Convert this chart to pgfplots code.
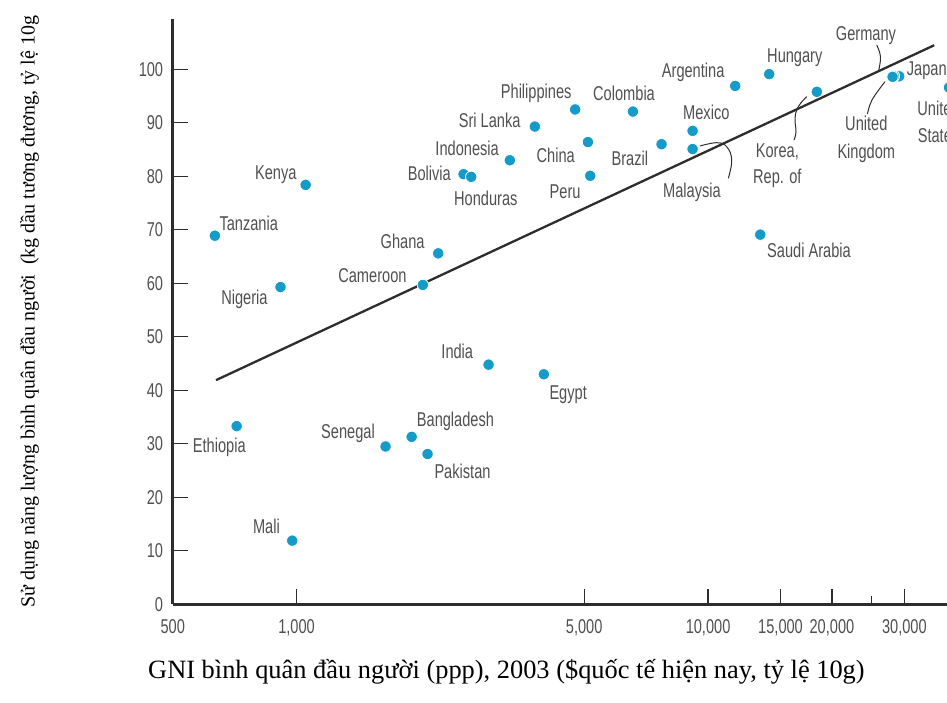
\documentclass[border=0pt]{standalone}
\usepackage{fontspec}
\usepackage{pgfplots}
\pgfplotsset{compat=1.18}
\setmainfont{Liberation Serif}
\newfontfamily\cond[FakeStretch=0.73]{Liberation Sans}
\definecolor{dot}{RGB}{20,155,200}
\definecolor{txt}{RGB}{80,80,80}
\definecolor{axc}{RGB}{45,45,45}
\pgfplotsset{every non boxed x axis/.style={}, every non boxed y axis/.style={}}
\begin{document}
\begin{tikzpicture}
\begin{axis}[
  at={(172.7pt,-604.3pt)}, anchor=south west,
  scale only axis, width=783.1pt, height=585pt,
  xmode=log, xmin=500, xmax=40000, ymin=0, ymax=109.35,
  enlargelimits=false, clip=false,
  axis x line*=bottom, axis y line*=left,
  axis line style={-, line width=2.6pt, color=axc},
  tick align=inside,
  major tick length=15pt,
  tick style={line width=1.2pt, color=axc},
  xtick={500,1000,5000,10000,15000,20000,30000},
  xticklabels={500,{1,000},{5,000},{10,000},{15,000},{20,000},{30,000}},
  extra x ticks={25000}, extra x tick labels={},
  extra x tick style={major tick length=8pt},
  minor xtick={},
  ytick={0,10,20,30,40,50,60,70,80,90,100},
  yticklabels={0,10,20,30,40,50,60,70,80,90,100},
  xticklabel style={font=\cond\fontsize{20}{24}\selectfont, text=txt, inner sep=0pt, anchor=north, yshift=-15.5pt},
  yticklabel style={font=\cond\fontsize{20}{24}\selectfont, text=txt, inner sep=0pt, anchor=east, xshift=-9.4pt},
]
\addplot[axc, line width=2.3pt, no marks] coordinates {(637,41.9) (35440,104.5)};
\addplot[only marks, mark=*, mark size=5.7pt, mark options={fill=dot, draw=white, line width=0.8pt}] coordinates {
(38500,96.6) (29140,98.7) (28300,98.7) (28080,98.6)
(633,68.9) (1052,78.4) (914,59.3) (2546,80.4) (2657,79.9) (3298,83.0)
(3794,89.3) (2209,65.6) (2027,59.7) (4753,92.5) (6567,92.1) (5105,86.4)
(5171,80.1) (7709,86.0) (9170,88.5) (9170,85.1) (11640,96.9) (14080,99.1)
(18380,95.8) (13390,69.1) (2928,44.8) (3990,43.0) (715,33.3) (1645,29.5)
(1904,31.3) (2081,28.1) (976,11.9)
};
\end{axis}
\begin{scope}[x=1pt, y=-1pt, every node/.style={font=\cond\fontsize{20}{24}\selectfont, text=txt, inner sep=0pt}]
\node[anchor=base east] at (296.7,179) {Kenya};
\node[anchor=base west] at (219.3,230.5) {Tanzania};
\node[anchor=base east] at (267.7,304.5) {Nigeria};
\node[anchor=base east] at (451,180) {Bolivia};
\node[anchor=base west] at (454,205.5) {Honduras};
\node[anchor=base east] at (499,155.5) {Indonesia};
\node[anchor=base east] at (520.7,127) {Sri Lanka};
\node[anchor=base east] at (571.7,98.5) {Philippines};
\node[anchor=base east] at (424.7,248.5) {Ghana};
\node[anchor=base east] at (406.7,282.5) {Cameroon};
\node[anchor=base west] at (593,100.5) {Colombia};
\node[anchor=base east] at (575,162) {China};
\node[anchor=base east] at (580.7,198) {Peru};
\node[anchor=base east] at (648.3,165.5) {Brazil};
\node[anchor=base west] at (683,119.5) {Mexico};
\node[anchor=base west] at (663,197) {Malaysia};
\node[anchor=base west] at (661.7,77) {Argentina};
\node[anchor=base west] at (767,62) {Hungary};
\node[anchor=base] at (777.3,157) {Korea,};
\node[anchor=base] at (777.3,183.5) {Rep. of};
\node[anchor=base] at (866,40.5) {Germany};
\node[anchor=base] at (866.3,130.5) {United};
\node[anchor=base] at (866.3,158.5) {Kingdom};
\node[anchor=base west] at (906.7,75.5) {Japan};
\node[anchor=base] at (938.5,115.5) {United};
\node[anchor=base] at (938.5,142.5) {States};
\node[anchor=base west] at (767,257) {Saudi Arabia};
\node[anchor=base east] at (473.3,358) {India};
\node[anchor=base west] at (549.3,399.5) {Egypt};
\node[anchor=base west] at (192.7,452.8) {Ethiopia};
\node[anchor=base east] at (375,438.5) {Senegal};
\node[anchor=base west] at (416.7,426) {Bangladesh};
\node[anchor=base west] at (434.3,478) {Pakistan};
\node[anchor=base east] at (280,533.5) {Mali};
\draw[axc, line width=1pt] plot[smooth, tension=0.7] coordinates {(700,146) (716.7,142.7) (726.7,146.7) (731.7,160) (728.3,178.3)};
\draw[axc, line width=1pt] plot[smooth, tension=0.7] coordinates {(806.7,96.7) (798.3,106.7) (795,118.3) (796,131.7) (794,140)};
\draw[axc, line width=1pt] plot[smooth, tension=0.7] coordinates {(876.7,45) (880.5,57) (878.3,72)};
\draw[axc, line width=1pt] plot[smooth, tension=0.7] coordinates {(885,81.7) (872,100) (867.5,114)};
\node[rotate=90, anchor=base west, font=\fontsize{20}{24}\selectfont, text=black] at (34.5,608) {Sử dụng năng lượng bình quân đầu người\ \ (kg dầu tương đương, tỷ lệ 10g};
\node[anchor=base west, font=\fontsize{26.4}{30}\selectfont, text=black] at (148,678.5) {GNI bình quân đầu người (ppp), 2003 (\$quốc tế hiện nay, tỷ lệ 10g)};
\pgfresetboundingbox
\path[use as bounding box] (0,0) rectangle (947,702);
\end{scope}
\end{tikzpicture}
\end{document}
